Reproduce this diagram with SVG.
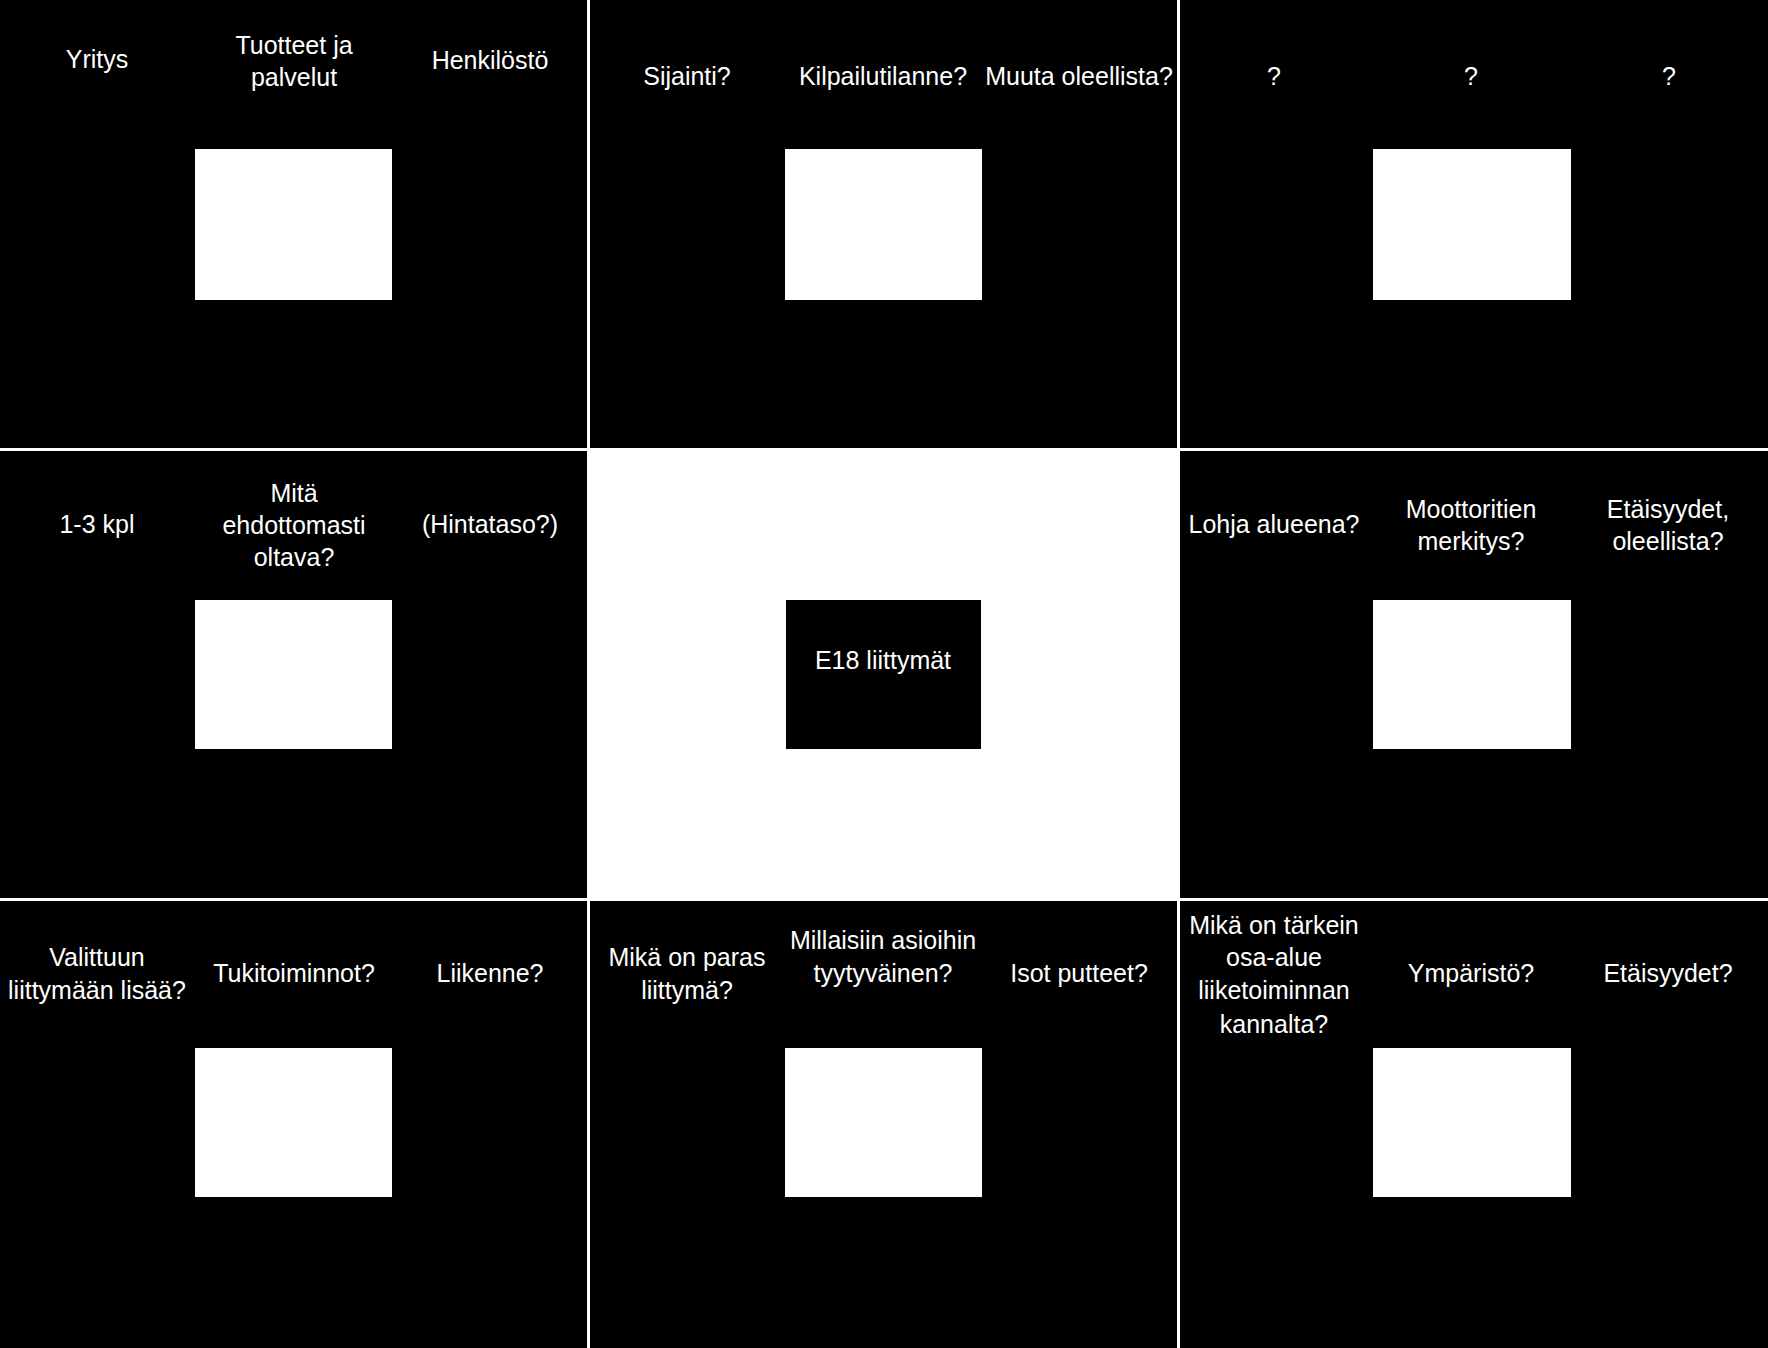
<svg xmlns="http://www.w3.org/2000/svg" width="1768" height="1348" viewBox="0 0 1768 1348">
<style>
.panel{fill:#000}
.panelw{fill:#fff}
.box{fill:#fff}
.boxd{fill:#000}
text{font-family:"Liberation Sans",Arial,sans-serif;font-size:25px;fill:#fff;text-anchor:middle}
</style>
<rect x="0" y="0" width="1768" height="1348" fill="#fff"/>
<g id="p11"><rect class="panel" x="0" y="0" width="587" height="448"/><rect class="box" x="195" y="149" width="197" height="151"/>
<text x="97" y="68">Yritys</text><text x="294" y="54">Tuotteet ja</text><text x="294" y="86">palvelut</text><text x="490" y="69">Henkilöstö</text></g>
<g id="p12"><rect class="panel" x="590" y="0" width="587" height="448"/><rect class="box" x="785" y="149" width="197" height="151"/>
<text x="687" y="85">Sijainti?</text><text x="883" y="85">Kilpailutilanne?</text><text x="1079" y="85">Muuta oleellista?</text></g>
<g id="p13"><rect class="panel" x="1180" y="0" width="588" height="448"/><rect class="box" x="1373" y="149" width="198" height="151"/>
<text x="1274" y="85">?</text><text x="1471" y="85">?</text><text x="1669" y="85">?</text></g>
<g id="p21"><rect class="panel" x="0" y="451" width="587" height="447"/><rect class="box" x="195" y="600" width="197" height="149"/>
<text x="97" y="533">1-3 kpl</text><text x="294" y="502">Mitä</text><text x="294" y="534">ehdottomasti</text><text x="294" y="566">oltava?</text><text x="490" y="533">(Hintataso?)</text></g>
<g id="p22"><rect class="panelw" x="590" y="451" width="587" height="447"/><rect class="boxd" x="786" y="600" width="195" height="149"/>
<text x="883" y="669">E18 liittymät</text></g>
<g id="p23"><rect class="panel" x="1180" y="451" width="588" height="447"/><rect class="box" x="1373" y="600" width="198" height="149"/>
<text x="1274" y="533">Lohja alueena?</text><text x="1471" y="518">Moottoritien</text><text x="1471" y="550">merkitys?</text><text x="1668" y="518">Etäisyydet,</text><text x="1668" y="550">oleellista?</text></g>
<g id="p31"><rect class="panel" x="0" y="901" width="587" height="447"/><rect class="box" x="195" y="1048" width="197" height="149"/>
<text x="97" y="966">Valittuun</text><text x="97" y="999">liittymään lisää?</text><text x="294" y="982">Tukitoiminnot?</text><text x="490" y="982">Liikenne?</text></g>
<g id="p32"><rect class="panel" x="590" y="901" width="587" height="447"/><rect class="box" x="785" y="1048" width="197" height="149"/>
<text x="687" y="966">Mikä on paras</text><text x="687" y="999">liittymä?</text><text x="883" y="949">Millaisiin asioihin</text><text x="883" y="982">tyytyväinen?</text><text x="1079" y="982">Isot putteet?</text></g>
<g id="p33"><rect class="panel" x="1180" y="901" width="588" height="447"/><rect class="box" x="1373" y="1048" width="198" height="149"/>
<text x="1274" y="934">Mikä on tärkein</text><text x="1274" y="966">osa-alue</text><text x="1274" y="999">liiketoiminnan</text><text x="1274" y="1033">kannalta?</text><text x="1471" y="982">Ympäristö?</text><text x="1668" y="982">Etäisyydet?</text></g>
<g id="connectors"></g>
</svg>
